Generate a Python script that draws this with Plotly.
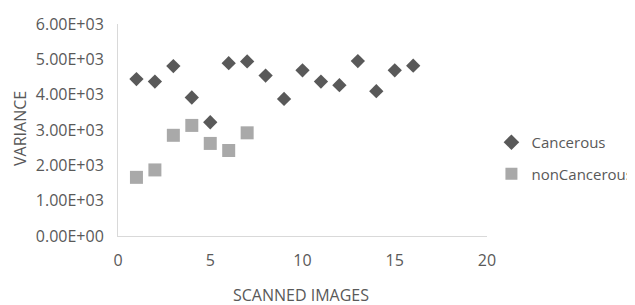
import plotly.graph_objects as go

images = [1, 2, 3, 4, 5, 6, 7, 8, 9, 10, 11, 12, 13, 14, 15, 16]
cancerous = [4440, 4370, 4810, 3920, 3220, 4890, 4940, 4540, 3880, 4690, 4370, 4270, 4950, 4100, 4690, 4820]
non_images = [1, 2, 3, 4, 5, 6, 7]
non_cancerous = [1660, 1870, 2850, 3130, 2620, 2420, 2920]
y_ticks = [0, 1000, 2000, 3000, 4000, 5000, 6000]
y_tick_labels = ["0.00E+00", "1.00E+03", "2.00E+03", "3.00E+03", "4.00E+03", "5.00E+03", "6.00E+03"]
x_ticks = [0, 5, 10, 15, 20]

font = "Open Sans, Liberation Sans, sans-serif"
txt = "#595959"

fig = go.Figure()
fig.add_trace(go.Scatter(x=images, y=cancerous, mode="markers", name="Cancerous",
                         legendgroup="a",
                         marker=dict(symbol="diamond", size=11, color="#595959")))
fig.add_trace(go.Scatter(x=non_images, y=non_cancerous, mode="markers", name="nonCancerous",
                         legendgroup="b",
                         marker=dict(symbol="square", size=13, color="#a9a9a9")))

fig.update_layout(
    width=627, height=297,
    margin=dict(l=110, r=148, t=16, b=69, autoexpand=False),
    plot_bgcolor="white", paper_bgcolor="white",
    font=dict(family=font, size=16, color=txt),
    showlegend=True,
    legend=dict(x=1.012, xanchor="left", y=0.519, yanchor="top", traceorder="grouped",
                font=dict(size=15, color=txt), tracegroupgap=9, itemsizing="constant"),
    xaxis=dict(range=[0, 20], tickvals=x_ticks, showgrid=False, zeroline=False,
               showline=True, linecolor="#d9d9d9", linewidth=1, ticks="", automargin=False,
               ticklabelstandoff=10, tickfont=dict(size=16, color=txt)),
    yaxis=dict(range=[0, 6000], tickvals=y_ticks, ticktext=y_tick_labels, showgrid=False,
               zeroline=False, showline=True, linecolor="#d9d9d9", linewidth=1, ticks="",
               automargin=False, ticklabelstandoff=10, tickfont=dict(size=16, color=txt)),
    annotations=[
        dict(text="SCANNED IMAGES", xref="paper", yref="paper", x=0.496, y=-0.278,
             xanchor="center", yanchor="middle", showarrow=False,
             font=dict(size=16, color=txt)),
        dict(text="VARIANCE", xref="paper", yref="paper", x=-0.266, y=0.509,
             xanchor="center", yanchor="middle", textangle=-90, showarrow=False,
             font=dict(size=16, color=txt)),
    ],
)

fig.write_html("out.html")
